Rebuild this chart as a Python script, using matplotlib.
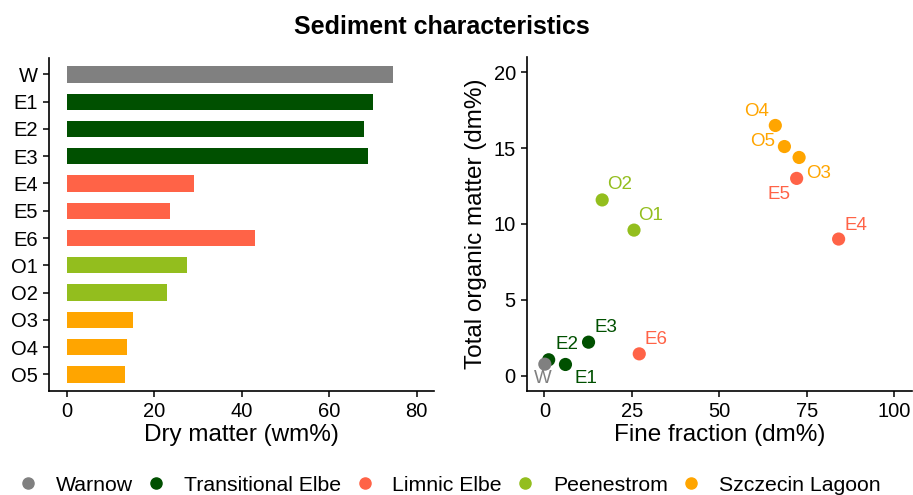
import matplotlib.pyplot as plt
from matplotlib.lines import Line2D

plt.rcParams['font.family'] = ['Liberation Sans', 'DejaVu Sans']

# sites, top to bottom
sites = ['W', 'E1', 'E2', 'E3', 'E4', 'E5', 'E6', 'O1', 'O2', 'O3', 'O4', 'O5']
groups = ['Warnow', 'Transitional Elbe', 'Transitional Elbe', 'Transitional Elbe',
          'Limnic Elbe', 'Limnic Elbe', 'Limnic Elbe',
          'Peenestrom', 'Peenestrom',
          'Szczecin Lagoon', 'Szczecin Lagoon', 'Szczecin Lagoon']
dry_matter = [74.7, 70.0, 67.9, 68.8, 29.1, 23.7, 43.1, 27.6, 23.0, 15.2, 13.8, 13.3]
fine_fraction = [0.1, 6.0, 1.2, 12.6, 84.1, 72.1, 27.1, 25.6, 16.5, 72.8, 66.0, 68.6]
organic_matter = [0.75, 0.73, 1.04, 2.2, 9.0, 13.0, 1.43, 9.59, 11.58, 14.38, 16.49, 15.1]

group_names = ['Warnow', 'Transitional Elbe', 'Limnic Elbe', 'Peenestrom', 'Szczecin Lagoon']
group_colors = ['#808080', '#005000', '#FF6347', '#93BE1E', '#FFA500']
col = dict(zip(group_names, group_colors))

# label offsets in pixels (dx, dy) relative to each point
label_offsets = {
    'W': (-2, -14), 'E1': (20, -14), 'E2': (18, 15), 'E3': (17, 15),
    'E4': (17, 14), 'E5': (-18, -16), 'E6': (17, 14), 'O1': (17, 15),
    'O2': (17, 15), 'O3': (19, -16), 'O4': (-19, 14), 'O5': (-22, 5),
}

fig = plt.figure(figsize=(9.13, 4.95), dpi=100)
fig.suptitle('Sediment characteristics', fontsize=18, fontweight='bold',
             x=0.484, y=0.945, va='center')

def style(ax):
    for s in ['top', 'right']:
        ax.spines[s].set_visible(False)
    for s in ['left', 'bottom']:
        ax.spines[s].set_linewidth(1.2)
    ax.tick_params(labelsize=14.5, length=4, width=1.1, pad=4, colors='black')

# bars
ax1 = fig.add_axes([0.0537, 0.2107, 0.4217, 0.672])
ypos = list(range(len(sites)))
ax1.barh(ypos, dry_matter, height=0.6, color=[col[g] for g in groups])
ax1.set_yticks(ypos)
ax1.set_yticklabels(sites)
ax1.set_ylim(11.6, -0.6)
ax1.set_xlim(-4, 84)
ax1.set_xticks([0, 20, 40, 60, 80])
ax1.set_xlabel('Dry matter (wm%)', fontsize=17.5, labelpad=2)
style(ax1)

# scatter (reversed so W sits on top of E2)
ax2 = fig.add_axes([0.5772, 0.2107, 0.4214, 0.674])
ax2.scatter(fine_fraction[::-1], organic_matter[::-1], s=90,
            c=[col[g] for g in groups[::-1]], edgecolors='none', zorder=3)
for s, x, y, g in zip(sites, fine_fraction, organic_matter, groups):
    dx, dy = label_offsets[s]
    ax2.annotate(s, (x, y), xytext=(dx, dy), textcoords='offset pixels',
                 ha='center', va='center', fontsize=13.5, color=col[g])
ax2.set_xlim(-5, 105)
ax2.set_ylim(-1, 21)
ax2.set_xticks([0, 25, 50, 75, 100])
ax2.set_yticks([0, 5, 10, 15, 20])
ax2.set_xlabel('Fine fraction (dm%)', fontsize=17.5, labelpad=2)
ax2.set_ylabel('Total organic matter (dm%)', fontsize=17.5, labelpad=5)
style(ax2)

handles = [Line2D([], [], marker='o', ls='none', color=c, markersize=8)
           for c in group_colors]
fig.legend(handles, group_names, loc='center', bbox_to_anchor=(0.493, 0.02),
           ncol=5, frameon=False, fontsize=15.3, handletextpad=0.9,
           columnspacing=0.7, handlelength=0.8, borderpad=0)

fig.savefig('out.png', dpi=100)
